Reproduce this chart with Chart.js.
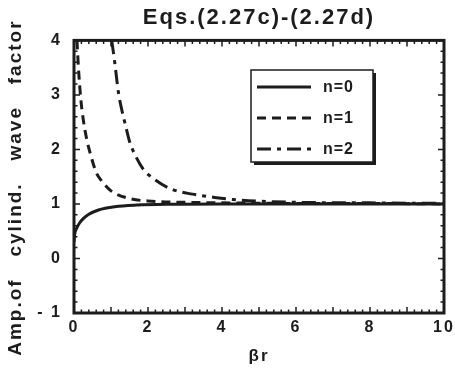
<!DOCTYPE html>
<html>
<head>
<meta charset="utf-8">
<script src="https://cdn.jsdelivr.net/npm/chart.js@4.4.1/dist/chart.umd.min.js"></script>
<style>
    html, body { margin: 0; padding: 0; background: #fff; }
    #wrap { width: 455px; height: 371px; }
</style>
</head>
<body>
<div id="wrap"><canvas id="ampChart" width="455" height="371"></canvas></div>
<script>
// values
const seriesLabels = ["n=0", "n=1", "n=2"];

const n0X = [0, 0.02, 0.07, 0.15, 0.25, 0.4, 0.66, 1.1, 1.7, 2.6, 4, 6, 8, 10];
const n0Y = [0.3, 0.45, 0.55, 0.65, 0.73, 0.81, 0.89, 0.95, 0.98, 0.995, 1.0, 1.0, 1.0, 1.0];

const n1X = [0.08, 0.12, 0.18, 0.25, 0.34, 0.45, 0.6, 0.75, 1.0, 1.5, 2.1, 3, 4, 6, 8, 10];
const n1Y = [4.0, 3.5, 2.95, 2.55, 2.2, 1.9, 1.58, 1.42, 1.24, 1.1, 1.05, 1.03, 1.02, 1.01, 1.01, 1.0];

const n2X = [1.02, 1.1, 1.2, 1.3, 1.4, 1.5, 1.65, 1.87, 2.2, 2.64, 3.2, 3.8, 4.3, 5, 6, 8, 10];
const n2Y = [4.0, 3.6, 3.05, 2.7, 2.42, 2.15, 1.9, 1.64, 1.44, 1.27, 1.18, 1.12, 1.08, 1.05, 1.03, 1.02, 1.01];

const xTicks = [0, 2, 4, 6, 8, 10];
const yTicks = [-1, 0, 1, 2, 3, 4];

const ink = "#1c1c1c";
const fontFamily = "'Liberation Sans', Arial, sans-serif";
const dashes = [[], [9, 6], [14, 6, 4, 6]];

function toPoints(xs, ys) {
    return xs.map((x, i) => ({ x: x, y: ys[i] }));
}

const seriesData = [toPoints(n0X, n0Y), toPoints(n1X, n1Y), toPoints(n2X, n2Y)];

// frame, inward ticks and the boxed legend
const framePlugin = {
    id: "frame",
    beforeUpdate(chart) {
        chart.ctx.letterSpacing = "2px";
    },
    beforeDraw(chart) {
        chart.ctx.letterSpacing = "2px";
    },
    afterDraw(chart) {
        const ctx = chart.ctx;
        const xs = chart.scales.x;
        const ys = chart.scales.y;
        const a = chart.chartArea;
        ctx.save();
        ctx.letterSpacing = "0px";
        ctx.strokeStyle = ink;

        // minor/major ticks
        ctx.lineWidth = 1.5;
        ctx.beginPath();
        for (let i = 0; i <= 50; i++) {
            const px = xs.getPixelForValue(i / 5);
            const len = i % 5 === 0 ? 6 : 3.5;
            ctx.moveTo(px, a.bottom);
            ctx.lineTo(px, a.bottom - len);
            ctx.moveTo(px, a.top);
            ctx.lineTo(px, a.top + len);
        }
        for (let i = -5; i <= 20; i++) {
            const py = ys.getPixelForValue(i / 5);
            const len = i % 5 === 0 ? 6 : 3.5;
            ctx.moveTo(a.left, py);
            ctx.lineTo(a.left + len, py);
            ctx.moveTo(a.right, py);
            ctx.lineTo(a.right - len, py);
        }
        ctx.stroke();

        // frame
        ctx.lineWidth = 3;
        ctx.strokeRect(a.left, a.top, a.right - a.left, a.bottom - a.top);

        // legend
        const bx = 251, by = 70, bw = 122, bh = 92;
        ctx.fillStyle = ink;
        ctx.fillRect(bx + 3, by + 3, bw, bh);
        ctx.fillStyle = "#fff";
        ctx.fillRect(bx, by, bw, bh);
        ctx.lineWidth = 1.5;
        ctx.strokeRect(bx, by, bw, bh);

        ctx.font = "bold 16px " + fontFamily;
        ctx.textBaseline = "middle";
        ctx.textAlign = "left";
        ctx.letterSpacing = "1px";
        seriesLabels.forEach((label, i) => {
            const ly = by + 17 + i * 31;
            ctx.lineWidth = 3;
            ctx.setLineDash(dashes[i]);
            ctx.beginPath();
            ctx.moveTo(bx + 6, ly);
            ctx.lineTo(bx + 60, ly);
            ctx.stroke();
            ctx.setLineDash([]);
            ctx.fillStyle = ink;
            ctx.fillText(label, bx + 72, ly + 1);
        });
        ctx.restore();
    },
};

const ctx = document.getElementById("ampChart").getContext("2d");
const ampChart = new Chart(ctx, {
    type: "line",
    data: {
        datasets: seriesLabels.map((label, i) => ({
            label: label,
            data: seriesData[i],
            borderColor: ink,
            borderWidth: 3,
            borderDash: dashes[i],
            pointRadius: 0,
            fill: false,
            cubicInterpolationMode: "monotone",
        })),
    },
    options: {
        responsive: false,
        animation: false,
        devicePixelRatio: 1,
        layout: { padding: { left: 0, right: 11, top: 0, bottom: 0 } },
        plugins: {
            legend: { display: false },
            tooltip: { enabled: false },
            title: {
                display: true,
                fullSize: false,
                text: "Eqs.(2.27c)-(2.27d)",
                color: ink,
                font: { family: fontFamily, size: 22, weight: "bold" },
                padding: { top: 5, bottom: 9 },
            },
        },
        scales: {
            x: {
                type: "linear",
                min: 0,
                max: 10,
                afterBuildTicks: (s) => { s.ticks = xTicks.map((v) => ({ value: v })); },
                grid: { display: false, drawTicks: false },
                border: { display: false },
                ticks: {
                    color: ink,
                    padding: 5,
                    font: { family: fontFamily, size: 16, weight: "bold" },
                },
                title: {
                    display: true,
                    text: "βr",
                    color: ink,
                    font: { family: fontFamily, size: 17, weight: "bold" },
                    padding: { top: 0, bottom: 4 },
                },
                afterFit: (s) => {
                    s.height = 58;
                    s.paddingLeft = 0;
                    s.paddingRight = 0;
                },
            },
            y: {
                min: -1,
                max: 4,
                afterBuildTicks: (s) => { s.ticks = yTicks.map((v) => ({ value: v })); },
                grid: { display: false, drawTicks: false },
                border: { display: false },
                ticks: {
                    color: ink,
                    padding: 12,
                    font: { family: fontFamily, size: 16, weight: "bold" },
                    callback: (v) => (v === -1 ? "- 1" : String(v)),
                },
                title: {
                    display: true,
                    text: "Amp.of   cylind.   wave   factor   ",
                    color: ink,
                    font: { family: fontFamily, size: 19, weight: "bold" },
                    padding: { top: 4, bottom: 0 },
                },
                afterFit: (s) => { s.width = 74; },
            },
        },
    },
    plugins: [framePlugin],
});
</script>
</body>
</html>
